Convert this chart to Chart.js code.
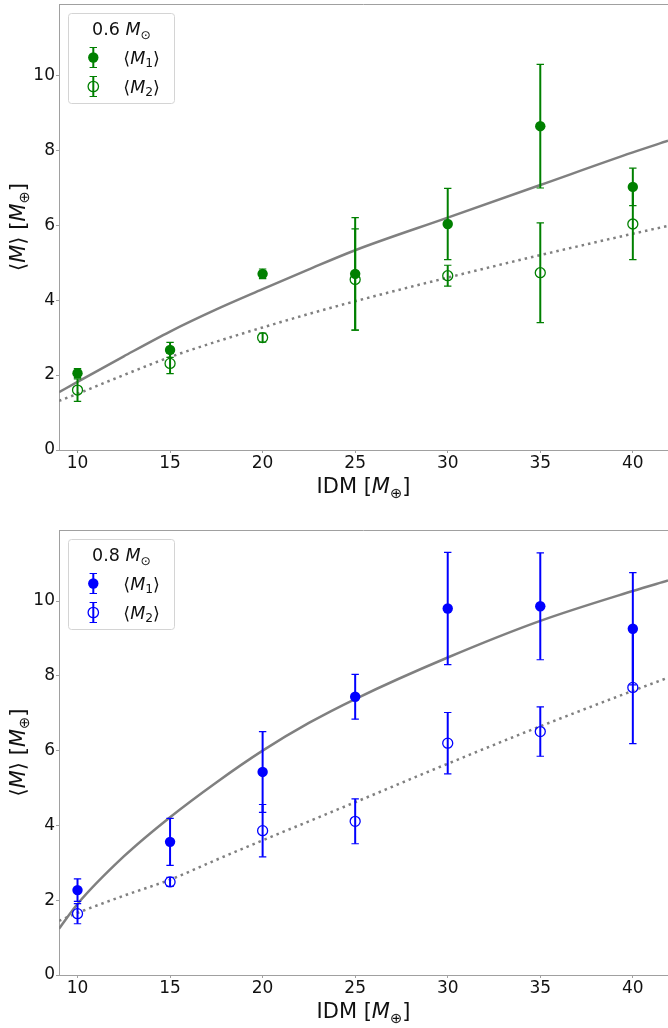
<!DOCTYPE html>
<html lang="en">
<head>
<meta charset="UTF-8">
<title>Mean planet mass vs IDM</title>
<script src="https://cdn.jsdelivr.net/npm/chart.js"></script>
<style>
  body { margin: 0; background: #fff; }
  canvas { display: block; }
</style>
</head>
<body>
<canvas id="panelTop" width="668" height="514"></canvas>
<canvas id="panelBottom" width="668" height="514"></canvas>
<script>
// IDM values of the runs
const idm = [10, 15, 20, 25, 30, 35, 40];
const xTicks = [10, 15, 20, 25, 30, 35, 40];
const yTicks = [0, 2, 4, 6, 8, 10];

// 0.6 Msun host
const m1Low = [2.05, 2.67, 4.70, 4.70, 6.03, 8.64, 7.02];
const m1LowErr = [0.12, 0.20, 0.13, 1.50, 0.95, 1.65, 0.50];
const m2Low = [1.60, 2.31, 3.00, 4.55, 4.65, 4.73, 6.03];
const m2LowErr = [0.30, 0.27, 0.12, 1.35, 0.28, 1.33, 0.95];

// 0.8 Msun host
const m1High = [2.27, 3.56, 5.43, 7.44, 9.80, 9.86, 9.26];
const m1HighErr = [0.30, 0.63, 1.08, 0.60, 1.50, 1.43, 1.50];
const m2High = [1.64, 2.49, 3.86, 4.11, 6.20, 6.51, 7.69];
const m2HighErr = [0.27, 0.12, 0.70, 0.60, 0.82, 0.66, 1.50];

// fitted trends, sampled along IDM
const fitX = [9, 10, 12.5, 15, 17.5, 20, 22.5, 25, 30, 35, 40, 41.9];
const fit1Low = [1.54, 1.82, 2.50, 3.16, 3.75, 4.29, 4.82, 5.33, 6.20, 7.07, 7.94, 8.25];
const fit2Low = [1.31, 1.50, 2.00, 2.48, 2.89, 3.27, 3.63, 3.97, 4.60, 5.20, 5.77, 5.98];
const fit1High = [1.24, 1.90, 3.17, 4.22, 5.15, 6.00, 6.74, 7.38, 8.49, 9.47, 10.27, 10.55];
const fit2High = [1.45, 1.66, 2.12, 2.55, 3.08, 3.60, 4.11, 4.62, 5.65, 6.65, 7.60, 7.95];

const GREEN = '#008000';
const BLUE = '#0000ff';
const FIT = '#808080';
const SPINE = '#a0a0a0';
const FONT = "'DejaVu Sans'";

function setFont(ctx, size, italic) {
  ctx.font = (italic ? 'italic ' : '') + size + 'px ' + FONT;
}

// runs of [text, style]; style may contain 'i' (italic) and 'sub'
function richWidth(ctx, runs, size) {
  let w = 0;
  for (const [t, s] of runs) {
    setFont(ctx, s.includes('sub') ? size * 0.7 : size, s.includes('i'));
    w += ctx.measureText(t).width;
  }
  return w;
}

function drawRich(ctx, runs, x, y, size, align) {
  let cx = align === 'center' ? x - richWidth(ctx, runs, size) / 2 : x;
  for (const [t, s] of runs) {
    const sub = s.includes('sub');
    setFont(ctx, sub ? size * 0.7 : size, s.includes('i'));
    ctx.fillText(t, cx, sub ? y + size * 0.22 : y);
    cx += ctx.measureText(t).width;
  }
}

function errorBar(ctx, x, yTop, yBot) {
  ctx.lineWidth = 2;
  ctx.beginPath();
  ctx.moveTo(x, yTop);
  ctx.lineTo(x, yBot);
  ctx.stroke();
  ctx.lineWidth = 1.2;
  ctx.beginPath();
  ctx.moveTo(x - 3.7, yTop); ctx.lineTo(x + 3.7, yTop);
  ctx.moveTo(x - 3.7, yBot); ctx.lineTo(x + 3.7, yBot);
  ctx.stroke();
}

// vertical error bars under each marker set
const errorBars = {
  id: 'errorBars',
  beforeDatasetDraw(chart, args) {
    const ds = chart.data.datasets[args.index];
    if (!ds.errors) return;
    const ctx = chart.ctx;
    const ys = chart.scales.y;
    ctx.save();
    ctx.strokeStyle = ds.borderColor;
    ds.data.forEach((p, i) => {
      const px = args.meta.data[i].x;
      errorBar(ctx, px, ys.getPixelForValue(p.y + ds.errors[i]), ys.getPixelForValue(p.y - ds.errors[i]));
    });
    ctx.restore();
  }
};

// top spine, axis titles and the legend box
const frame = {
  id: 'frame',
  afterDraw(chart, args, opts) {
    const { ctx, chartArea: a } = chart;
    ctx.save();
    ctx.strokeStyle = SPINE;
    ctx.lineWidth = 1;
    ctx.beginPath();
    ctx.moveTo(a.left, a.top + 0.5);
    ctx.lineTo(a.right, a.top + 0.5);
    ctx.stroke();

    ctx.fillStyle = '#111';
    ctx.textBaseline = 'alphabetic';
    drawRich(ctx, [['IDM [', ''], ['M', 'i'], ['⊕', 'sub'], [']', '']],
      (a.left + a.right) / 2, a.bottom + 43, 21, 'center');

    ctx.save();
    ctx.translate(24.5, (a.top + a.bottom) / 2);
    ctx.rotate(-Math.PI / 2);
    drawRich(ctx, [['⟨', ''], ['M', 'i'], ['⟩ [', ''], ['M', 'i'], ['⊕', 'sub'], [']', '']],
      0, 0, 21, 'center');
    ctx.restore();

    // legend
    const bx = a.left + 9.5, by = a.top + 9.5, bw = 106, bh = 90;
    ctx.fillStyle = 'rgba(255,255,255,0.8)';
    ctx.strokeStyle = '#d4d4d4';
    ctx.beginPath();
    ctx.roundRect(bx, by, bw, bh, 3);
    ctx.fill();
    ctx.stroke();

    ctx.fillStyle = '#111';
    drawRich(ctx, [[opts.title + ' ', ''], ['M', 'i'], ['⊙', 'sub']],
      bx + bw / 2, a.top + 31, 17.5, 'center');

    const rows = [
      { y: a.top + 53.5, filled: true, n: '1' },
      { y: a.top + 82.5, filled: false, n: '2' }
    ];
    const mx = a.left + 34.3;
    for (const r of rows) {
      ctx.strokeStyle = opts.color;
      errorBar(ctx, mx, r.y - 10, r.y + 10);
      ctx.beginPath();
      ctx.arc(mx, r.y, 5.2, 0, Math.PI * 2);
      if (r.filled) {
        ctx.fillStyle = opts.color;
        ctx.fill();
      } else {
        ctx.lineWidth = 1.3;
        ctx.stroke();
      }
      ctx.fillStyle = '#111';
      drawRich(ctx, [['⟨', ''], ['M', 'i'], [r.n, 'sub'], ['⟩', '']],
        a.left + 64.3, r.y + 6, 17.5, 'left');
    }
    ctx.restore();
  }
};

function points(ys) {
  return idm.map((x, i) => ({ x, y: ys[i] }));
}

function curve(ys) {
  return fitX.map((x, i) => ({ x, y: ys[i] }));
}

function makePanel(id, p) {
  return new Chart(document.getElementById(id), {
    type: 'scatter',
    data: {
      datasets: [
        {
          data: points(p.m1), errors: p.m1Err,
          backgroundColor: p.color, borderColor: p.color,
          pointRadius: 5.2, borderWidth: 0
        },
        {
          data: points(p.m2), errors: p.m2Err,
          backgroundColor: 'rgba(255,255,255,0)', borderColor: p.color,
          pointRadius: 5, borderWidth: 1.3
        },
        {
          type: 'line', data: curve(p.fit1),
          borderColor: FIT, borderWidth: 2.5, pointRadius: 0,
          cubicInterpolationMode: 'monotone'
        },
        {
          type: 'line', data: curve(p.fit2),
          borderColor: FIT, borderWidth: 2.5, pointRadius: 0,
          borderDash: [2.5, 4], cubicInterpolationMode: 'monotone'
        }
      ]
    },
    options: {
      responsive: false,
      animation: false,
      devicePixelRatio: 1,
      layout: { autoPadding: false, padding: { top: p.top, right: 0, bottom: 0, left: 0 } },
      plugins: {
        legend: { display: false },
        tooltip: { enabled: false },
        frame: { title: p.title, color: p.color }
      },
      scales: {
        x: {
          type: 'linear', min: 9, max: 41.9,
          afterBuildTicks: s => { s.ticks = xTicks.map(v => ({ value: v })); },
          afterFit: s => { s.height = p.axisH; s.paddingLeft = 0; s.paddingRight = 0; },
          grid: { drawOnChartArea: false, drawTicks: true, tickLength: 3, color: SPINE },
          border: { color: SPINE, width: 1 },
          ticks: { color: '#111', padding: 0, font: { family: FONT, size: 17 } }
        },
        y: {
          min: 0, max: 11.9,
          afterBuildTicks: s => { s.ticks = yTicks.map(v => ({ value: v })); },
          afterFit: s => { s.width = 59; s.paddingTop = 0; s.paddingBottom = 0; },
          grid: { drawOnChartArea: false, drawTicks: true, tickLength: 3, color: SPINE },
          border: { color: SPINE, width: 1 },
          ticks: { color: '#111', padding: 1, font: { family: FONT, size: 17 } }
        }
      }
    },
    plugins: [errorBars, frame]
  });
}

makePanel('panelTop', {
  title: '0.6', color: GREEN, top: 4, axisH: 64,
  m1: m1Low, m1Err: m1LowErr, m2: m2Low, m2Err: m2LowErr,
  fit1: fit1Low, fit2: fit2Low
});

makePanel('panelBottom', {
  title: '0.8', color: BLUE, top: 16, axisH: 53,
  m1: m1High, m1Err: m1HighErr, m2: m2High, m2Err: m2HighErr,
  fit1: fit1High, fit2: fit2High
});
</script>
</body>
</html>
